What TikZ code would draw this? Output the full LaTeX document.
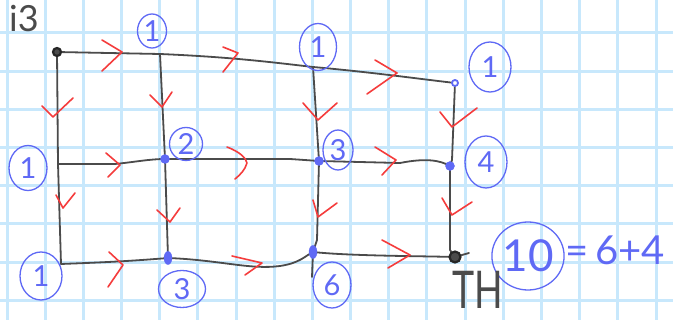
\documentclass[tikz,border=0pt]{standalone}
\usepackage{fontspec}
\usepackage{graphicx}
\setmainfont{Lato}
\usetikzlibrary{shapes.geometric}
\definecolor{gridblue}{RGB}{200,232,252}
\definecolor{inkblue}{RGB}{95,105,245}
\definecolor{inkred}{RGB}{245,60,60}
\definecolor{inkgray}{RGB}{75,75,75}
\tikzset{
  gridline/.style={gridblue, line width=3pt},
  edge/.style={inkgray, line width=1.8pt, line cap=round, line join=round},
  chev/.style={inkred, line width=1.6pt, line cap=round, line join=round},
  bluedot/.style={ellipse, fill=inkblue, draw=inkblue, inner sep=0pt, minimum width=9pt, minimum height=9pt},
  blackdot/.style={circle, draw=black!85, line width=2.2pt, fill=inkgray, inner sep=0pt, minimum size=8pt},
  ringdot/.style={circle, draw=inkblue, line width=1.8pt, fill=white, inner sep=0pt, minimum size=6pt},
  lab/.style={ellipse, draw=inkblue, line width=1.3pt, text=inkblue, inner sep=0pt, font=\fontsize{29}{29}\selectfont},
}
\begin{document}
\begin{tikzpicture}[x=1pt,y=-1pt]
\useasboundingbox (0,0) rectangle (673,320);
\fill[white] (0,0) rectangle (673,320);
% graph paper
\foreach \k in {0,...,17} \draw[gridline] ({7+38.18*\k},0) -- ({7+38.18*\k},320);
\foreach \k in {0,...,7} \draw[gridline] (0,{33+38.2*\k}) -- (673,{33+38.2*\k});

% vertices
\coordinate (s) at (57,52);
\coordinate (b) at (160,54);
\coordinate (c) at (313,67);
\coordinate (d) at (455,83);
\coordinate (e) at (58,164);
\coordinate (f) at (165,159);
\coordinate (g) at (319,161);
\coordinate (h) at (450,166);
\coordinate (i) at (61,264);
\coordinate (j) at (168,258);
\coordinate (k) at (313,252);
\coordinate (l) at (455,257);
\coordinate (ktail) at (312,277);
\coordinate (ltail) at (469,253);

% edges
\draw[edge] (s) -- (b);
\draw[edge] (b) .. controls (230,57) and (270,62) .. (c);
\draw[edge] (c) .. controls (370,72) and (420,79) .. (d);
\draw[edge] (e) -- (115,164) .. controls (135,162) and (150,159) .. (f);
\draw[edge] (f) -- (290,159) -- (g);
\draw[edge] (g) -- (400,163) .. controls (425,158) and (440,160) .. (h);
\draw[edge] (i) .. controls (85,263) and (120,262) .. (j);
\draw[edge] (j) .. controls (220,260) and (250,270) .. (280,266) .. controls (300,263) and (305,256) .. (k);
\draw[edge] (k) .. controls (350,256) and (420,256) .. (l) -- (ltail);
\draw[edge] (s) -- (e) -- (i);
\draw[edge] (b) -- (f) -- (j);
\draw[edge] (c) -- (g) -- (317,240) -- (k) -- (ktail);
\draw[edge] (d) -- (452,160) -- (h) -- (450,250) -- (l);

% red direction marks
\draw[chev] (102,40) -- (122,52) -- (102,71);
\draw[chev] (223,47) -- (238,53) -- (223,72);
\draw[chev] (375,60) -- (397,73) -- (367,94);
\draw[chev] (106,153) -- (120,165) -- (108,177);
\draw[chev] (227,147) .. controls (240,152) and (246,158) .. (247,163) .. controls (245,170) and (240,175) .. (235,179);
\draw[chev] (375,147) -- (396,160) -- (382,175);
\draw[chev] (109,252) -- (123,265) -- (108,287);
\draw[chev] (232,256) -- (262,263) -- (245,275);
\draw[chev] (382,240) -- (410,255) -- (388,268);
\draw[chev] (42,106) -- (53,117) -- (73,98);
\draw[chev] (56,195) -- (63,208) -- (75,193);
\draw[chev] (150,95) -- (162,107) -- (172,92);
\draw[chev] (157,210) -- (170,222) -- (180,208);
\draw[chev] (303,103) -- (318,120) -- (337,103);
\draw[chev] (313,200) -- (318,217) -- (337,203);
\draw[chev] (440,112) -- (452,127) -- (477,108);
\draw[chev] (442,198) -- (452,215) -- (472,202);

% dots
\node[blackdot] (sdot) at (s) {};
\node[ringdot] (ddot) at (d) {};
\node[bluedot] (fdot) at (f) {};
\node[bluedot] (gdot) at (g) {};
\node[bluedot] (hdot) at (h) {};
\node[bluedot, minimum width=8pt, minimum height=13pt] (jdot) at (j) {};
\node[bluedot, minimum width=8pt, minimum height=13pt] (kdot) at (k) {};
\node[blackdot, minimum size=11pt] (ldot) at (l) {};

% path counts
\node[lab, minimum width=29pt, minimum height=34pt] (nb) at (152,31) {1};
\node[lab, minimum width=37pt, minimum height=47pt] (nc) at (318,47) {1};
\node[lab, minimum width=42pt, minimum height=50pt] (nd) at (490,67) {1};
\node[lab, minimum width=38pt, minimum height=45pt] (ne) at (28,168) {1};
\node[lab, minimum width=33pt, minimum height=33pt] (nf) at (186,144) {2};
\node[lab, minimum width=30pt, minimum height=40pt] (ng) at (338,150) {3};
\node[lab, minimum width=42pt, minimum height=52pt] (nh) at (486,162) {4};
\node[lab, minimum width=42pt, minimum height=48pt] (ni) at (41,276) {1};
\node[lab, minimum width=47pt, minimum height=37pt] (nj) at (182,289) {3};
\node[lab, minimum width=38pt, minimum height=46pt] (nk) at (332,285) {6};
\node[lab, minimum width=62pt, minimum height=68pt, font=\fontsize{44}{44}\selectfont] (nl) at (528,256) {10};
\node[text=inkblue, inner sep=0pt, font=\fontsize{40}{40}\selectfont, anchor=west] (eq) at (565,250) {=\,6+4};
\node[text=inkgray, inner sep=0pt, font=\fontsize{52}{52}\selectfont] (th) at (478,290) {\scalebox{0.72}[1]{TH}};
\node[text=inkgray, inner sep=0pt, font=\fontsize{36}{36}\selectfont] (title) at (24,19) {i3};
\end{tikzpicture}
\end{document}
